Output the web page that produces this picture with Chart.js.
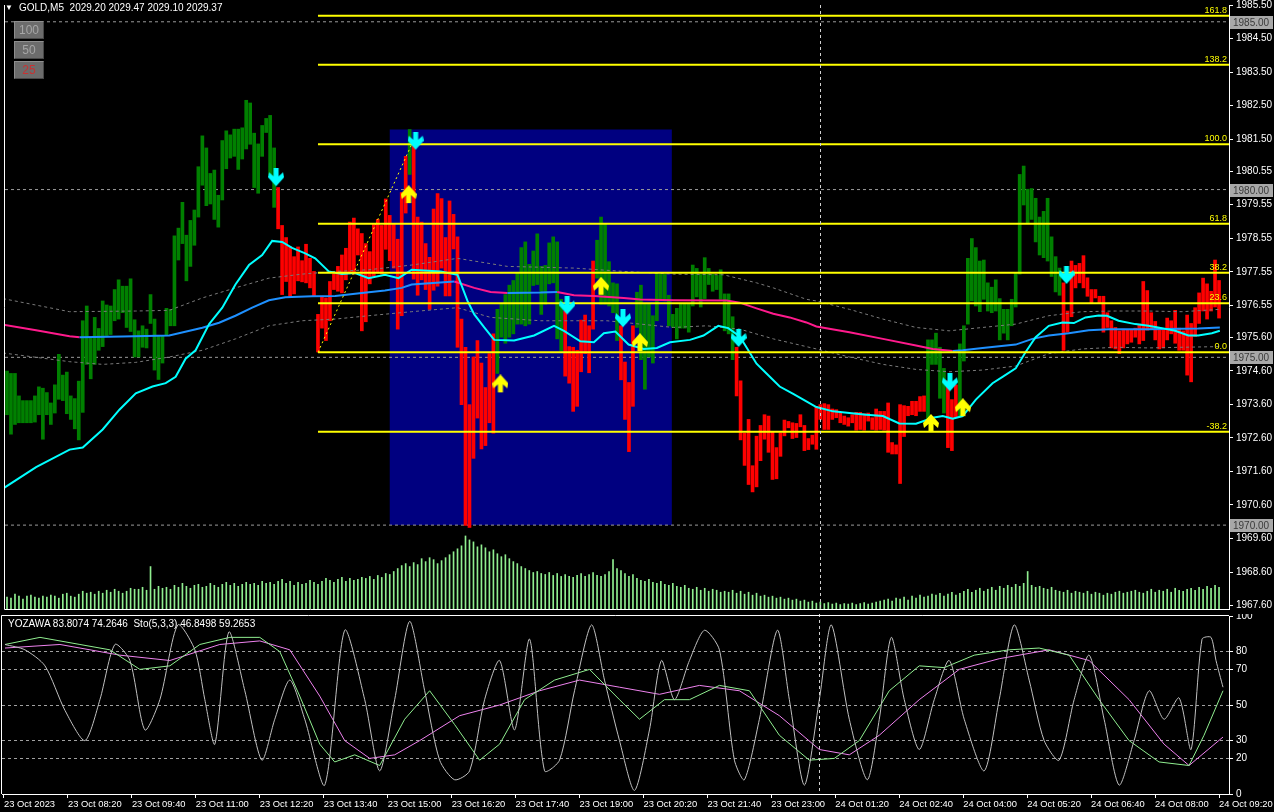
<!DOCTYPE html>
<html>
<head>
<meta charset="utf-8">
<title>GOLD,M5</title>
<script src="https://cdn.jsdelivr.net/npm/chart.js@4.4.1/dist/chart.umd.min.js"></script>
<style>
  body { margin: 0; background: #000; }
  #wrap { position: relative; width: 1274px; height: 812px; overflow: hidden; background: #000;
          font-family: "Liberation Sans", Arial, sans-serif; }
  #priceChart { position: absolute; left: 0; top: 0; }
  #oscChart { position: absolute; left: 0; top: 614px; }
  .txt { position: absolute; color: #fff; font-size: 10px; line-height: 12px; white-space: pre; }
  .btn { position: absolute; left: 14px; width: 28px; height: 16px; background: #6c6c6c;
         border: 1px solid #8e8e8e; border-right-color: #474747; border-bottom-color: #474747;
         color: #a6a6a6; font-size: 12px; line-height: 16px; text-align: center; }
</style>
</head>
<body>
<div id="wrap">
  <canvas id="priceChart" width="1274" height="614"></canvas>
  <canvas id="oscChart" width="1274" height="198"></canvas>
  <div class="txt" style="left:5px;top:2px;font-size:8px">▼</div>
  <div class="txt" style="left:19px;top:2px">GOLD,M5  2029.20 2029.47 2029.10 2029.37</div>
  <div class="btn" style="top:21px">100</div>
  <div class="btn" style="top:41px">50</div>
  <div class="btn" style="top:61px;color:#c83232">25</div>
  <div class="txt" style="left:8px;top:618px">YOZAWA 83.8074 74.2646  Sto(5,3,3) 46.8498 59.2653</div>
</div>

<script>
// ---- data ----
var barHigh = [
  1974.59,1974.52,1974.52,1973.85,1973.71,1973.71,1973.71,1973.85,1974.12,1974.08,
  1973.95,1973.64,1974.18,1975.09,1974.47,1974.56,1973.85,1973.77,1974.29,1976.09,
  1976.53,1975.58,1976.19,1975.86,1976.68,1976.56,1976.53,1977.02,1977.31,1977.12,
  1977.12,1977.34,1976.12,1975.79,1975.94,1975.84,1976.87,1976.14,1975.65,1975.63,
  1976.46,1976.43,1978.62,1978.85,1979.62,1978.64,1979.08,1979.39,1980.68,1981.60,
  1981.24,1980.48,1980.58,1979.83,1981.46,1981.75,1981.63,1981.80,1981.80,1981.84,
  1982.66,1982.58,1981.68,1981.36,1981.91,1982.12,1982.21,1981.24,1980.06,1978.93,
  1978.57,1978.29,1978.00,1978.29,1977.88,1978.37,1977.95,1977.56,1976.28,1976.82,
  1976.77,1977.26,1977.48,1977.71,1978.05,1978.25,1979.03,1979.15,1978.83,1978.69,
  1978.39,1978.15,1978.98,1979.11,1978.93,1979.72,1979.23,1978.98,1978.52,1979.91,
  1980.99,1981.79,1981.30,1979.18,1979.03,1978.39,1977.98,1979.42,1979.88,1979.73,
  1978.57,1979.66,1979.26,1978.59,1976.14,1975.30,1973.59,1975.01,1975.50,1974.83,
  1974.10,1975.11,1975.70,1976.43,1976.58,1976.87,1977.15,1977.29,1977.51,1978.27,
  1978.44,1977.77,1978.17,1978.68,1977.71,1977.74,1978.41,1978.59,1978.44,1976.73,
  1976.38,1975.32,1975.30,1975.21,1976.11,1976.26,1975.94,1977.87,1978.49,1979.18,
  1978.98,1977.85,1977.22,1977.19,1975.94,1974.86,1974.25,1975.94,1976.94,1977.15,
  1976.58,1976.58,1976.24,1977.51,1977.48,1977.48,1976.85,1976.28,1976.46,1976.61,
  1976.58,1976.58,1977.75,1977.65,1977.48,1977.97,1977.65,1977.48,1977.44,1977.61,
  1976.89,1976.89,1976.21,1975.30,1974.30,1972.74,1973.15,1971.77,1972.65,1972.97,
  1973.29,1973.25,1972.77,1972.31,1972.75,1973.13,1973.09,1973.05,1973.03,1973.29,
  1972.97,1972.58,1972.68,1973.54,1973.59,1973.62,1973.59,1973.46,1973.44,1973.34,
  1973.25,1973.20,1973.29,1973.36,1973.36,1973.32,1973.34,1973.20,1973.46,1973.39,
  1973.39,1973.64,1972.46,1972.39,1973.59,1973.56,1973.54,1973.69,1973.69,1973.83,
  1973.85,1975.52,1975.52,1975.72,1975.30,1974.67,1974.30,1973.74,1974.18,1975.40,
  1975.94,1977.95,1978.54,1978.27,1977.87,1977.90,1977.22,1977.09,1977.31,1976.75,
  1976.43,1976.43,1976.73,1977.51,1980.45,1980.70,1980.01,1980.03,1979.74,1979.18,
  1979.35,1979.74,1978.59,1978.00,1977.66,1977.22,1976.38,1977.87,1977.74,1977.80,
  1978.03,1977.37,1977.02,1977.02,1976.82,1976.82,1976.33,1976.09,1975.89,1975.79,
  1975.84,1975.81,1975.81,1975.87,1975.99,1977.26,1976.99,1976.33,1976.07,1975.87,
  1975.81,1976.17,1976.09,1976.40,1975.87,1975.79,1976.26,1976.01,1976.48,1976.92,
  1977.36,1977.19,1976.97,1977.90,1977.29
];
var barLow = [
  1973.29,1972.71,1973.00,1973.05,1973.05,1973.05,1973.05,1973.07,1973.29,1972.56,
  1973.29,1973.00,1973.34,1973.75,1973.71,1973.32,1973.15,1972.87,1972.54,1973.36,
  1974.79,1974.36,1974.79,1975.21,1975.32,1975.65,1975.68,1976.09,1976.14,1976.33,
  1975.89,1975.77,1975.01,1975.01,1975.30,1975.28,1976.01,1974.62,1974.34,1974.83,
  1975.65,1975.94,1975.94,1977.90,1978.39,1977.28,1977.71,1978.34,1979.18,1980.13,
  1979.52,1979.57,1979.11,1978.88,1979.69,1980.62,1980.94,1980.99,1980.60,1980.91,
  1981.21,1981.35,1980.06,1979.89,1980.99,1981.70,1980.45,1979.47,1978.83,1976.87,
  1977.26,1976.82,1976.89,1977.28,1977.25,1977.22,1977.07,1976.82,1975.16,1975.87,
  1975.50,1976.09,1977.02,1976.97,1976.92,1977.31,1977.51,1977.48,1978.05,1975.79,
  1976.06,1977.19,1977.41,1977.51,1977.48,1978.22,1977.88,1977.66,1975.84,1976.24,
  1979.30,1980.45,1977.33,1976.85,1977.31,1977.02,1976.43,1977.00,1977.12,1977.66,
  1976.83,1976.83,1978.23,1975.30,1973.59,1969.99,1969.93,1971.99,1973.19,1972.27,
  1972.37,1973.05,1972.74,1974.52,1975.60,1975.42,1975.60,1975.70,1975.99,1975.99,
  1975.94,1975.99,1977.14,1977.17,1976.28,1976.58,1977.19,1977.22,1975.55,1975.19,
  1974.44,1974.23,1973.39,1973.54,1974.57,1975.11,1974.54,1975.84,1977.36,1976.58,
  1976.58,1976.53,1976.33,1975.50,1974.33,1973.15,1972.19,1973.54,1975.89,1974.93,
  1974.05,1975.01,1974.83,1976.09,1976.73,1976.68,1975.94,1975.89,1975.55,1975.87,
  1975.87,1975.75,1976.53,1976.80,1976.50,1976.75,1977.17,1976.97,1977.02,1976.73,
  1975.79,1975.70,1974.93,1973.85,1972.54,1971.78,1971.21,1970.99,1971.14,1971.92,
  1972.56,1972.17,1971.36,1971.38,1972.05,1972.66,1972.90,1972.58,1972.61,1972.93,
  1972.22,1972.25,1972.41,1972.26,1973.15,1972.85,1972.85,1973.15,1973.20,1973.05,
  1973.00,1972.95,1973.05,1972.83,1972.85,1972.83,1973.10,1972.85,1972.83,1972.85,
  1972.83,1972.17,1972.12,1972.12,1971.24,1972.64,1973.26,1973.29,1973.26,1973.39,
  1973.39,1973.05,1974.79,1974.79,1973.78,1973.34,1972.31,1972.22,1973.20,1973.26,
  1974.89,1975.99,1976.68,1976.53,1976.36,1976.73,1976.38,1976.33,1976.38,1975.52,
  1975.72,1975.52,1975.94,1976.50,1977.48,1979.54,1979.01,1979.11,1978.44,1978.05,
  1977.97,1977.87,1977.41,1976.95,1976.85,1975.21,1975.75,1976.21,1977.07,1977.22,
  1977.07,1976.82,1976.63,1976.77,1976.63,1975.75,1975.89,1975.28,1975.25,1975.11,
  1975.28,1975.40,1975.45,1975.60,1975.40,1975.50,1975.81,1975.84,1975.52,1975.25,
  1975.28,1975.52,1975.70,1975.42,1975.21,1975.21,1974.47,1974.27,1975.62,1976.01,
  1976.38,1976.14,1976.38,1976.50,1976.17
];
// colour runs of the bars: g = up colour, r = down colour
var barRuns = [['g',68],['r',33],['g',1],['r',21],['g',17],['r',8],['g',6],['r',4],
               ['g',25],['r',48],['g',5],['r',3],['g',26],['r',40]];

var tickVolume = [
  240,220,300,260,200,260,280,240,220,260, 240,280,260,220,300,320,260,240,300,360,
  320,340,300,360,320,380,340,400,360,320, 360,420,400,400,440,380,860,400,460,420,
  440,400,480,440,520,460,420,480,500,440, 460,520,480,440,500,540,480,520,460,500,
  540,500,520,480,560,520,540,500,560,600, 520,560,480,540,500,520,580,540,500,560,
  620,580,540,600,640,560,620,580,600,640, 620,660,600,680,640,720,700,760,820,880,
  920,860,940,900,1020,960,1040,1000,920,980, 1040,1100,1160,1220,1280,1480,1400,1360,1260,1300,
  1240,1160,1200,1120,1060,1100,1020,960,920,860, 820,780,740,760,720,700,740,680,720,660,
  700,660,640,680,720,660,700,740,680,660, 700,760,1000,820,780,720,660,700,620,580,
  560,600,540,520,560,500,480,520,460,440, 480,420,400,440,380,420,360,400,380,340,
  360,340,380,320,360,300,340,280,320,260, 280,240,260,220,240,200,220,180,200,160,
  180,140,160,120,140,110,130,100,120,90, 110,100,120,90,110,130,100,120,140,160,
  180,200,160,220,200,240,180,260,220,280, 240,260,300,280,320,260,300,340,280,320,
  360,400,340,380,420,360,400,440,380,460, 420,480,440,500,460,520,760,480,440,460,
  420,400,440,380,360,340,380,320,360,340, 320,360,300,340,320,280,320,300,340,360,
  320,340,360,380,340,320,360,400,340,380, 360,400,340,420,380,360,400,420,380,440,
  400,460,420,480,440
];

// moving averages, sampled along the bars: [bar, price]
var fastMa = [[0,1971.09],[8.3,1971.73],[16.7,1972.25],[20,1972.31],[25,1972.85],[29.2,1973.44],
  [33.3,1973.93],[37.5,1974.13],[40.8,1974.23],[43.3,1974.42],[45.8,1974.96],[48.3,1975.21],
  [51.7,1975.99],[55,1976.48],[58.3,1977.17],[61.7,1977.75],[65,1978.05],[67.5,1978.47],
  [70,1978.44],[72.5,1978.26],[75.8,1978.10],[78.3,1977.95],[81.7,1977.56],[85,1977.48],
  [88.3,1977.51],[91.7,1977.36],[95.8,1977.46],[99.2,1977.36],[102.5,1977.61],[109.8,1977.56],
  [114,1977.46],[116.5,1976.68],[118.2,1976.28],[120.7,1975.89],[123.2,1975.52],[128.2,1975.50],
  [133.2,1975.65],[138.2,1975.94],[140.7,1975.79],[144.8,1975.48],[148.2,1975.45],[150.7,1975.72],
  [153.6,1975.77],[156.9,1975.38],[160.7,1975.25],[164,1975.28],[167.3,1975.45],[172.3,1975.52],
  [175.7,1975.65],[179.4,1975.94],[181.9,1975.87],[184.8,1975.62],[189,1974.81],[191.5,1974.52],
  [194.8,1974.13],[198.2,1973.91],[201.5,1973.69],[204,1973.52],[208.2,1973.39],[212.3,1973.34],
  [216.5,1973.29],[220.7,1973.25],[224.8,1973.03],[229,1973.02],[233.2,1973.20],[235.7,1973.25],
  [238.2,1973.17],[240.7,1973.25],[244,1973.74],[248.2,1974.23],[250.7,1974.42],[254,1974.67],
  [256.5,1975.16],[259,1975.60],[262.3,1975.94],[265.7,1976.04],[268.6,1976.02],[271.5,1976.19],
  [274.8,1976.25],[276.9,1976.24],[279.8,1976.09],[284,1975.99],[287.3,1975.94],[290.7,1975.87],
  [294,1975.79],[297.3,1975.65],[299.8,1975.65],[303.2,1975.72],[305.2,1975.79]];
var slowMa = [[0,1975.97],[8.3,1975.81],[16.7,1975.63],[19.2,1975.60],[30,1975.62],[41.7,1975.65],
  [50,1975.88],[54.2,1976.03],[58.3,1976.24],[62.5,1976.48],[66.7,1976.70],[70.8,1976.79],
  [77.5,1976.82],[83.3,1976.83],[90,1976.92],[95.8,1976.99],[100,1977.07],[102.5,1977.17],
  [113.2,1977.26],[118.2,1977.07],[122.3,1976.95],[126.5,1976.92],[134.8,1976.93],[139,1976.95],
  [143.2,1976.85],[148.2,1976.83],[155.7,1976.77],[159.8,1976.72],[168.2,1976.70],[181.5,1976.69],
  [184.8,1976.63],[189,1976.46],[193.2,1976.30],[197.3,1976.19],[201.5,1976.04],[204,1975.92],
  [212.3,1975.75],[220.7,1975.55],[229,1975.35],[233.2,1975.25],[238.2,1975.19],[240.7,1975.21],
  [245.7,1975.28],[254,1975.38],[258.2,1975.55],[262.3,1975.65],[267.3,1975.72],[272.3,1975.81],
  [277.3,1975.84],[287.3,1975.84],[295.7,1975.85],[299.8,1975.86],[305.2,1975.89]];
var bandUpper = [[0,1976.75],[16.7,1976.36],[33.3,1976.38],[41.7,1976.40],[50,1976.77],[58.3,1977.07],
  [66.7,1977.36],[75,1977.48],[83.3,1977.56],[91.7,1977.61],[102.5,1977.75],[114,1977.95],
  [126.5,1977.71],[143.2,1977.66],[155.7,1977.56],[168.2,1977.48],[180.7,1977.46],[189,1977.22],
  [193.2,1977.07],[201.5,1976.73],[204,1976.68],[212.3,1976.43],[220.7,1976.14],[229,1975.89],
  [237.3,1975.79],[245.7,1975.89],[254,1975.99],[262.3,1976.24],[270.7,1976.36],[279,1976.38],
  [287.3,1976.38],[295.7,1976.36],[305.2,1976.43]];
var bandLower = [[0,1975.13],[16.7,1974.87],[25,1974.79],[33.3,1974.85],[41.7,1975.01],[50,1975.21],
  [58.3,1975.55],[66.7,1975.94],[75,1976.09],[83.3,1976.14],[91.7,1976.24],[102.5,1976.36],
  [114,1976.48],[122.3,1976.19],[134.8,1976.09],[151.5,1976.09],[168.2,1975.89],[176.5,1975.94],
  [184.8,1975.84],[193.2,1975.55],[204,1975.25],[212.3,1975.01],[220.7,1974.79],[229,1974.64],
  [237.3,1974.57],[245.7,1974.62],[254,1974.74],[262.3,1975.11],[270.7,1975.25],[279,1975.30],
  [287.3,1975.28],[295.7,1975.30],[305.2,1975.32]];

// signal arrows: [bar, price]
var sellArrows = [[68.5,1980.35],[103.5,1981.44],[141.5,1976.53],[155.5,1976.15],[184.5,1975.56],[237.5,1974.24],[266.75,1977.44]];
var buyArrows = [[101.75,1979.85],[124.75,1974.21],[150,1977.12],[159.75,1975.44],[232.75,1973.03],[240.75,1973.50]];

// fibonacci retracement
var fibLevels = [161.8, 138.2, 100.0, 61.8, 38.2, 23.6, 0.0, -38.2];
var fibLow = 1975.15, fibHigh = 1981.35;
var fibStartBar = 79, fibEndBar = 102.5;

// horizontal lines and the highlighted zone
var hLines = [1985.00, 1980.00, 1975.00, 1970.00];
var zoneBars = [97, 167.75];
var zonePrices = [1970.00, 1981.79];
var separatorBar = 205;

var priceTicks = [1985.50,1984.50,1983.50,1982.50,1981.50,1980.55,1979.55,1978.55,1977.55,
                  1976.55,1975.60,1974.60,1973.60,1972.60,1971.60,1970.60,1969.60,1968.60,1967.60];
var oscTicks = [100, 80, 70, 50, 30, 20, 0];
var oscLevels = [80, 70, 50, 30, 20];
var timeTickBars = [1,17,33,49,65,81,97,113,129,145,161,177,193,209,225,241,257,273,289,305];
var timeLabels = ['23 Oct 2023','23 Oct 08:20','23 Oct 09:40','23 Oct 11:00','23 Oct 12:20',
  '23 Oct 13:40','23 Oct 15:00','23 Oct 16:20','23 Oct 17:40','23 Oct 19:00','23 Oct 20:20',
  '23 Oct 21:40','23 Oct 23:00','24 Oct 01:20','24 Oct 02:40','24 Oct 04:00','24 Oct 05:20',
  '24 Oct 06:40','24 Oct 08:00','24 Oct 09:20'];

// oscillators: [bar, value]
var yozawaLine = [[1.25,84],[6.25,81],[11.25,72],[16.25,47],[21.25,30],[25,53],[28.75,84],[32.5,75],
  [36.25,36],[40,53],[44.5,95],[48.75,81],[51.25,53],[53.75,28],[57.25,91],[61.25,58],[65.5,19],
  [68.75,42],[72.5,64],[76.25,42],[81.25,5],[86.25,92],[91.25,53],[95,13],[98.75,53],[102.5,97],
  [106.25,58],[110,19],[113.75,8],[117.5,13],[121.25,53],[125,75],[128.75,36],[132.5,87],[136.25,13],
  [140,19],[143.75,58],[148,95],[151.25,64],[155,30],[158.75,2],[162.5,36],[165.5,75],[168.75,53],
  [172.5,75],[176.25,92],[180,81],[183.75,19],[186.25,8],[190,42],[194.5,92],[197.5,53],[201.25,5],
  [205,53],[208,95],[212.5,42],[217,8],[220,42],[223,88],[226.25,53],[230,25],[233.75,53],[237.5,75],
  [241.25,42],[246.25,13],[250,53],[253.75,95],[257.5,64],[261.25,30],[265,19],[268.75,53],[272.5,78],
  [276.25,42],[280,5],[283.75,30],[287.5,58],[291.25,42],[295,54],[298,25],[300.75,87],[303,88],
  [304.25,75],[306,60]];
var stoMain = [[1.25,84],[10,88],[20,84],[27.5,81],[35,70],[42.5,72],[50,84],[57.5,88],[65,88],
  [70,80],[75,55],[80,28],[83.75,18],[88.75,22],[95,16],[101.25,42],[107.5,58],[113.75,39],[120,19],
  [125,28],[131.25,53],[138.75,64],[147.5,70],[155,53],[160,42],[166.25,53],[172.5,53],[180,61],
  [187.5,58],[195,33],[202.5,19],[208.75,20],[215,30],[222.5,58],[230,72],[236.25,71],[243.75,78],
  [252.5,81],[260,82],[267.5,78],[275,53],[282.5,30],[290,18],[297.5,16],[301.25,33],[306,58]];
var stoSignal = [[1.25,82],[15,84],[30,78],[42.5,75],[55,84],[65,86],[72.5,81],[80,55],[86.25,30],
  [92.5,20],[98.75,22],[105,30],[115,44],[125,50],[135,58],[145,64],[155,60],[165,56],[175,61],
  [185,58],[195,44],[205,25],[212.5,22],[220,33],[230,53],[240,70],[250,76],[262.5,81],[272.5,75],
  [282.5,53],[291.25,28],[297.5,16],[306,32]];

// ---- build ----
var FONT = '"Liberation Sans", Arial, sans-serif';
var X_MIN = 0.5, X_MAX = 307.5;

var barColors = [];
barRuns.forEach(function (r) {
    for (var i = 0; i < r[1]; i++) barColors.push(r[0] == 'g' ? '#008000' : '#ff0000');
});

var priceBars = [];
var volBars = [];
for (var i = 0; i < barHigh.length; i++) {
    priceBars.push({ x: i + 1, y: [barLow[i], barHigh[i]] });
    volBars.push({ x: i + 1, y: tickVolume[i] });
}

function pts(list) {
    return list.map(function (p) { return { x: p[0], y: p[1] }; });
}

function fibPrice(lvl) {
    return fibLow + (fibHigh - fibLow) * lvl / 100;
}

function arrowImage(color, down) {
    var c = document.createElement('canvas');
    c.width = 16; c.height = 19;
    var g = c.getContext('2d');
    var shape = [[5.5,0],[10.5,0],[10.5,8],[15,4],[16,9],[8,18],[0,9],[1,4],[5.5,8]];
    g.fillStyle = color;
    g.beginPath();
    shape.forEach(function (p, k) {
        var y = down ? p[1] : 18 - p[1];
        if (k == 0) g.moveTo(p[0], y); else g.lineTo(p[0], y);
    });
    g.closePath();
    g.fill();
    return c;
}

var datasets = [];
hLines.forEach(function (v) {
    datasets.push({ type: 'line', data: [{ x: X_MIN, y: v }, { x: X_MAX, y: v }], borderColor: '#9a9a9a',
        borderWidth: 1, borderDash: [3, 3], pointRadius: 0, order: 9 });
});
datasets.push({ type: 'bar', data: volBars, yAxisID: 'yVol', backgroundColor: '#90ee90',
    barThickness: 1, grouped: false, order: 8 });
datasets.push({ type: 'bar', data: priceBars, backgroundColor: function (ctx) { return barColors[ctx.dataIndex]; },
    barThickness: 3, grouped: false, order: 7 });
[bandUpper, bandLower].forEach(function (b) {
    datasets.push({ type: 'line', data: pts(b), borderColor: '#7a7a7a', borderWidth: 1, borderDash: [3, 3],
        pointRadius: 0, order: 6 });
});
datasets.push({ type: 'line', data: pts(slowMa), borderWidth: 2, pointRadius: 0, order: 5,
    borderColor: '#1e90ff',
    segment: { borderColor: function (c) { return c.p1.parsed.y < c.p0.parsed.y ? '#ff1a8c' : '#1e90ff'; } } });
datasets.push({ type: 'line', data: pts(fastMa), borderColor: '#00ffff', borderWidth: 2, pointRadius: 0, order: 4 });
fibLevels.forEach(function (l) {
    datasets.push({ type: 'line', data: [{ x: fibStartBar, y: fibPrice(l) }, { x: X_MAX, y: fibPrice(l) }],
        borderColor: '#ffff00', borderWidth: 2, pointRadius: 0, order: 3 });
});
datasets.push({ type: 'line', data: [{ x: fibStartBar, y: fibLow }, { x: fibEndBar, y: fibHigh }],
    borderColor: '#ffff00', borderWidth: 1, borderDash: [2, 3], pointRadius: 0, order: 2 });
datasets.push({ type: 'scatter', data: pts(sellArrows), pointStyle: arrowImage('#00ffff', true), order: 1 });
datasets.push({ type: 'scatter', data: pts(buyArrows), pointStyle: arrowImage('#ffff00', false), order: 1 });

var priceDecor = {
    id: 'priceDecor',
    beforeDatasetsDraw: function (chart) {
        var ctx = chart.ctx, xs = chart.scales.x, ys = chart.scales.y;
        var x1 = xs.getPixelForValue(zoneBars[0]), x2 = xs.getPixelForValue(zoneBars[1]);
        var y1 = ys.getPixelForValue(zonePrices[1]), y2 = ys.getPixelForValue(zonePrices[0]);
        ctx.save();
        ctx.fillStyle = '#000080';
        ctx.fillRect(x1, y1, x2 - x1, y2 - y1);
        ctx.restore();
    },
    afterDraw: function (chart) {
        var ctx = chart.ctx, a = chart.chartArea, xs = chart.scales.x, ys = chart.scales.y;
        ctx.save();
        // fib labels
        ctx.font = '9px ' + FONT;
        ctx.fillStyle = '#ffff00';
        ctx.textAlign = 'right';
        ctx.textBaseline = 'bottom';
        fibLevels.forEach(function (l) {
            ctx.fillText(l.toFixed(1), a.right - 2, ys.getPixelForValue(fibPrice(l)) - 1);
        });
        // separator
        var sx = Math.round(xs.getPixelForValue(separatorBar)) + 0.5;
        ctx.strokeStyle = '#d0d0d0';
        ctx.lineWidth = 1;
        ctx.setLineDash([3, 3]);
        ctx.beginPath(); ctx.moveTo(sx, a.top); ctx.lineTo(sx, a.bottom); ctx.stroke();
        ctx.setLineDash([]);
        // frame
        ctx.strokeStyle = '#ffffff';
        ctx.beginPath();
        ctx.moveTo(a.left - 0.5, a.top); ctx.lineTo(a.left - 0.5, a.bottom + 0.5);
        ctx.lineTo(a.right, a.bottom + 0.5);
        ctx.stroke();
        // price boxes of the horizontal lines
        ctx.font = '10px ' + FONT;
        ctx.textAlign = 'left';
        ctx.textBaseline = 'middle';
        hLines.forEach(function (v) {
            var y = Math.round(ys.getPixelForValue(v));
            ctx.fillStyle = '#a8a8a8';
            ctx.fillRect(a.right + 1, y - 6, 43, 13);
            ctx.fillStyle = '#3a3a3a';
            ctx.fillText(v.toFixed(2), a.right + 4, y + 1);
        });
        ctx.restore();
    }
};

new Chart(document.getElementById('priceChart'), {
    type: 'bar',
    data: { datasets: datasets },
    options: {
        responsive: false,
        animation: false,
        devicePixelRatio: 1,
        events: [],
        layout: { padding: { left: 2, right: 0, top: 0, bottom: 2 } },
        plugins: { legend: { display: false }, tooltip: { enabled: false } },
        scales: {
            x: { type: 'linear', min: X_MIN, max: X_MAX, offset: false, display: false },
            y: {
                position: 'right', min: 1967.5, max: 1985.5,
                afterBuildTicks: function (s) { s.ticks = priceTicks.map(function (v) { return { value: v }; }); },
                afterFit: function (s) { s.width = 45; s.paddingTop = 0; s.paddingBottom = 0; },
                ticks: { color: '#ffffff', font: { size: 10, family: FONT }, padding: 3,
                    callback: function (v) { return Number(v).toFixed(2); } },
                grid: { drawOnChartArea: false, tickLength: 4, tickColor: '#ffffff' },
                border: { color: '#ffffff' }
            },
            yVol: { display: false, min: 0, max: 12240 }
        }
    },
    plugins: [priceDecor]
});

// ---- oscillator window ----
var oscDecor = {
    id: 'oscDecor',
    afterDraw: function (chart) {
        var ctx = chart.ctx, a = chart.chartArea, xs = chart.scales.x;
        ctx.save();
        var sx = Math.round(xs.getPixelForValue(separatorBar)) + 0.5;
        ctx.strokeStyle = '#d0d0d0';
        ctx.lineWidth = 1;
        ctx.setLineDash([3, 3]);
        ctx.beginPath(); ctx.moveTo(sx, 0); ctx.lineTo(sx, a.bottom); ctx.stroke();
        ctx.setLineDash([]);
        ctx.strokeStyle = '#ffffff';
        ctx.beginPath();
        ctx.moveTo(a.left - 0.5, a.bottom); ctx.lineTo(a.left - 0.5, a.top - 0.5);
        ctx.lineTo(a.right, a.top - 0.5);
        ctx.stroke();
        ctx.restore();
    }
};

new Chart(document.getElementById('oscChart'), {
    type: 'line',
    data: {
        datasets: [
            { data: pts(yozawaLine), borderColor: '#c0c0c0', borderWidth: 1, pointRadius: 0, tension: 0.25 },
            { data: pts(stoMain), borderColor: '#90ee90', borderWidth: 1, pointRadius: 0 },
            { data: pts(stoSignal), borderColor: '#ee82ee', borderWidth: 1, pointRadius: 0 }
        ]
    },
    options: {
        responsive: false,
        animation: false,
        devicePixelRatio: 1,
        events: [],
        layout: { padding: { left: 2, right: 0, top: 2, bottom: 0 } },
        plugins: { legend: { display: false }, tooltip: { enabled: false } },
        scales: {
            x: {
                type: 'linear', min: X_MIN, max: X_MAX, offset: false,
                afterBuildTicks: function (s) { s.ticks = timeTickBars.map(function (v) { return { value: v }; }); },
                afterFit: function (s) { s.height = 18; s.paddingLeft = 0; s.paddingRight = 0; },
                ticks: { color: '#ffffff', font: { size: 9.4, family: FONT }, align: 'start', maxRotation: 0,
                    autoSkip: false, padding: 1,
                    callback: function (v, i) { return timeLabels[i]; } },
                grid: { drawOnChartArea: false, tickLength: 4, tickColor: '#ffffff' },
                border: { color: '#ffffff' }
            },
            y: {
                position: 'right', min: 0, max: 100,
                afterBuildTicks: function (s) { s.ticks = oscTicks.map(function (v) { return { value: v }; }); },
                afterFit: function (s) { s.width = 45; s.paddingTop = 0; s.paddingBottom = 0; },
                ticks: { color: '#ffffff', font: { size: 10, family: FONT }, padding: 3 },
                grid: {
                    color: function (c) { return oscLevels.indexOf(c.tick.value) >= 0 ? '#a0a0a0' : 'rgba(0,0,0,0)'; },
                    tickLength: 4, tickColor: '#ffffff'
                },
                border: { color: '#ffffff', dash: [3, 3] }
            }
        }
    },
    plugins: [oscDecor]
});
</script>
</body>
</html>
